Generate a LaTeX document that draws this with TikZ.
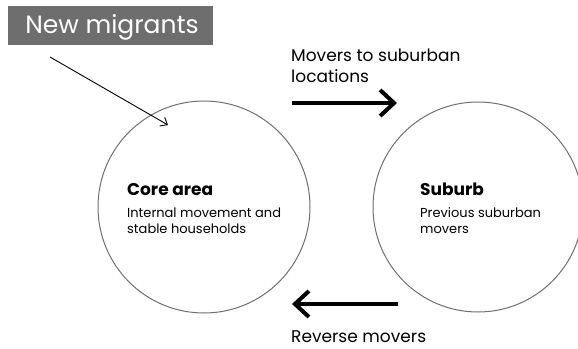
\documentclass[tikz,border=0pt]{standalone}
\usepackage{fontspec}
\setmainfont{Poppins}
\usetikzlibrary{arrows.meta}
\definecolor{boxgray}{HTML}{6E6E6E}
\definecolor{ringgray}{HTML}{707070}
\tikzset{
  ring/.style={draw=ringgray, line width=1pt, circle},
  bigarrow/.style={line width=4pt, -{Straight Barb[length=14pt, width=26pt, line width=4pt]}},
  thinarrow/.style={line width=0.9pt, -{Straight Barb[length=6pt, width=10pt, line width=0.9pt]}},
  title/.style={font=\fontsize{17}{20}\selectfont\bfseries, anchor=base west, inner sep=0pt},
  body/.style={font=\fontsize{13}{16}\selectfont, anchor=base west, inner sep=0pt, align=left},
  label/.style={font=\fontsize{17}{21}\selectfont, anchor=base west, inner sep=0pt, align=left},
}
\begin{document}
\begin{tikzpicture}[x=1pt, y=-1pt]
\clip (0,0) rectangle (578,348);
\fill[white] (0,0) rectangle (578,348);
% header box
\node[fill=boxgray, minimum width=205pt, minimum height=39pt, anchor=north west, inner sep=0pt] (nmbox) at (8,6) {};
\node[text=white, font=\fontsize{25}{28}\selectfont, anchor=base] (nm) at (112,33) {New migrants};
% circles
\node[ring, minimum size=212pt, inner sep=0pt] (core) at (204,207) {};
\node[ring, minimum size=210pt, inner sep=0pt] (sub) at (478,207) {};
% new migrants arrow
\coordinate (nmstart) at (50,57);
\coordinate (nmend) at (168,125);
\draw[thinarrow] (nmstart) -- (nmend);
% core text (base anchor = last line)
\node[title] (coret) at (127,195) {Core area};
\node[body] (cored) at (127,233) {Internal movement and\\stable households};
% suburb text
\node[title] (subt) at (420,195) {Suburb};
\node[body] (subd) at (420,233) {Previous suburban\\movers};
% movers label
\node[label] (mov) at (291,82) {Movers to suburban\\locations};
\coordinate (ra1) at (292,103);
\coordinate (ra2) at (397,103);
\draw[bigarrow] (ra1) -- (ra2);
% reverse
\coordinate (la1) at (398,304);
\coordinate (la2) at (292,304);
\draw[bigarrow] (la1) -- (la2);
\node[label] (rev) at (291,342) {Reverse movers};
\end{tikzpicture}
\end{document}
